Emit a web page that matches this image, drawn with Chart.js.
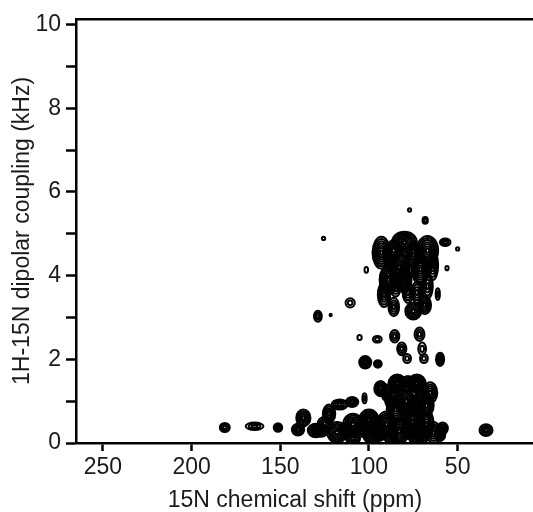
<!DOCTYPE html>
<html>
<head>
<meta charset="utf-8">
<script src="https://cdn.jsdelivr.net/npm/chart.js@4"></script>
<style>
    body { margin: 0; background: #fff; }
    canvas { display: block; }
</style>
</head>
<body>
<canvas id="container" width="533" height="512"></canvas>
<script>
// peaks: centre (ppm, kHz), half width (ppm), half height (kHz), contour levels
const peakShift = [
    77.1, 68.3, 125.6, 50, 56, 101.5, 61.2, 110.6, 128.8, 121.6, 105.3, 95.3,
    85.5, 81.5, 78.5, 71.5, 70, 69, 59.9, 102.1, 95, 102.5, 34, 181.3, 164.5, 151.3,
    93, 80, 67, 57, 83, 89, 71, 64, 91.5, 86, 75, 68.5, 78, 67, 85,
    86, 75, 80, 73, 88,
    93.5, 84, 73, 65.5, 79, 87, 67.5, 78, 90, 70, 75,
    137, 140, 130, 122.5, 116.5, 109.5, 118, 109, 109, 100, 98, 90, 85, 83,
    75.5, 73.5, 67.5, 63.5, 58.5, 125,
    127, 113, 104, 94, 88, 78, 70, 60
];
const peakCoupling = [
    5.57, 5.32, 4.89, 4.64, 4.18, 4.14, 3.56, 3.35, 3.03, 3.06, 2.52, 2.48,
    2.55, 2.25, 2.02, 2.6, 2.25, 2.02, 2.0, 1.93, 1.89, 1.07, 0.31, 0.37, 0.4, 0.37,
    4.55, 4.8, 4.6, 4.8, 4.2, 3.9, 4.15, 4.25, 3.55, 3.25, 3.15, 3.3, 3.6, 3.75, 3.75,
    4.6, 4.5, 3.9, 3.6, 4.3,
    1.3, 1.42, 1.42, 1.2, 1.0, 1.05, 0.9, 1.4, 1.2, 1.1, 0.85,
    0.6, 0.32, 0.3, 0.7, 0.92, 0.98, 0.25, 0.45, 0.1, 0.55, 0.23, 0.45, 0.8, 0.28,
    0.5, 0.15, 0.45, 0.25, 0.35, 0.45,
    0.3, 0.3, 0.35, 0.25, 0.2, 0.3, 0.2, 0.2
];
const peakWidth = [
    0.9, 1.5, 0.9, 0.9, 0.9, 1.0, 1.2, 2.6, 2.2, 0.6, 1.2, 2.5,
    2.6, 2.6, 2.2, 2.8, 2.2, 2.2, 2.3, 3.4, 2.2, 1.2, 3.7, 2.8, 5.0, 2.4,
    5, 7, 6, 3, 6, 5, 5, 3, 3.5, 3, 4.5, 3.5, 3, 3, 3,
    4, 4, 4, 3, 3,
    3.5, 5, 5, 4, 5, 4, 4, 4, 3, 4, 4,
    4, 3.5, 4.5, 3.5, 4.5, 3.5, 5.5, 5.5, 4, 5.5, 5.5, 5.5, 5, 5.5,
    5.5, 4, 4, 4, 3, 4,
    4, 4, 4, 4, 4, 4, 4, 3
];
const peakHeight = [
    0.04, 0.08, 0.04, 0.04, 0.05, 0.07, 0.14, 0.11, 0.13, 0.03, 0.06, 0.08,
    0.15, 0.15, 0.11, 0.16, 0.15, 0.11, 0.16, 0.15, 0.09, 0.12, 0.14, 0.11, 0.09, 0.1,
    0.38, 0.25, 0.35, 0.09, 0.35, 0.35, 0.35, 0.35, 0.3, 0.22, 0.2, 0.22, 0.25, 0.3, 0.25,
    0.25, 0.3, 0.3, 0.25, 0.2,
    0.18, 0.22, 0.22, 0.25, 0.25, 0.25, 0.25, 0.2, 0.2, 0.2, 0.2,
    0.2, 0.14, 0.16, 0.22, 0.12, 0.12, 0.25, 0.25, 0.12, 0.25, 0.25, 0.3, 0.3, 0.3,
    0.35, 0.2, 0.35, 0.25, 0.14, 0.18,
    0.15, 0.18, 0.2, 0.2, 0.2, 0.2, 0.2, 0.15
];
const peakLevels = [
    1, 2, 1, 1, 1, 1, 2, 2, 3, 1, 1, 2,
    3, 3, 2, 3, 2, 2, 4, 5, 3, 2, 4, 3, 3, 4,
    7, 7, 7, 3, 8, 7, 7, 5, 5, 4, 5, 5, 4, 4, 4,
    5, 6, 6, 4, 4,
    5, 7, 7, 5, 6, 5, 5, 5, 4, 5, 5,
    5, 4, 5, 5, 4, 4, 6, 6, 4, 7, 7, 7, 6, 7,
    8, 5, 6, 5, 4, 4,
    4, 5, 5, 5, 5, 5, 5, 4
];

const xTicks = [250, 200, 150, 100, 50];
const yTicks = [0, 1, 2, 3, 4, 5, 6, 7, 8, 9, 10];
const yLabelled = [0, 2, 4, 6, 8, 10];

class PeakContour extends Chart.ScatterController {
    draw() {
        const chart = this.chart;
        const ctx = chart.ctx;
        const xs = chart.scales.x;
        const ys = chart.scales.y;
        const area = chart.chartArea;

        ctx.save();
        ctx.beginPath();
        ctx.rect(area.left, area.top, area.right - area.left, area.bottom - area.top);
        ctx.clip();
        ctx.strokeStyle = '#000';
        ctx.lineWidth = 2;
        this.getDataset().data.forEach(p => {
            const cx = xs.getPixelForValue(p.x);
            const cy = ys.getPixelForValue(p.y);
            const rx = Math.abs(xs.getPixelForValue(p.x + p.w) - cx);
            const ry = Math.abs(ys.getPixelForValue(p.y + p.h) - cy);
            // outer ring first, then smaller ones inside
            for (let i = 0; i < p.n; i++) {
                const f = 1 - i / p.n;
                ctx.beginPath();
                ctx.ellipse(cx, cy, Math.max(rx * f, 0.6), Math.max(ry * f, 0.6), 0, 0, 2 * Math.PI);
                ctx.stroke();
            }
        });
        ctx.restore();
    }
}
PeakContour.id = 'peakContour';
PeakContour.defaults = Chart.ScatterController.defaults;
Chart.register(PeakContour);

const font = { family: "'Liberation Sans', Arial, sans-serif", size: 23 };
const titleFont = { family: "'Liberation Sans', Arial, sans-serif", size: 23, lineHeight: 1 };
const ink = '#1a1a1a';

new Chart(document.querySelector('#container'), {
    type: 'scatter',
    data: {
        datasets: [{
            type: 'peakContour',
            label: 'contours',
            pointRadius: 0,
            data: peakShift.map((x, i) => ({
                x: x,
                y: peakCoupling[i],
                w: peakWidth[i],
                h: peakHeight[i],
                n: peakLevels[i]
            }))
        }]
    },
    options: {
        responsive: false,
        animation: false,
        layout: { autoPadding: false, padding: { top: 15, right: 0, left: 0, bottom: 0 } },
        plugins: {
            legend: { display: false },
            tooltip: { enabled: false }
        },
        scales: {
            x: {
                type: 'linear',
                position: 'bottom',
                reverse: true,
                min: 7.5,
                max: 265.2,
                afterFit: scale => { scale.height = 69; },
                afterBuildTicks: scale => { scale.ticks = xTicks.map(v => ({ value: v })); },
                border: { display: true, color: '#000', width: 2.5 },
                grid: { drawOnChartArea: false, tickLength: 8, tickWidth: 2.5, tickColor: '#000' },
                ticks: { font: font, color: ink, padding: 3, maxRotation: 0, autoSkip: false },
                title: {
                    display: true,
                    text: '15N chemical shift (ppm)\u00a0\u00a0\u00a0',
                    font: titleFont,
                    color: ink,
                    padding: { top: 0, bottom: 0 }
                }
            },
            x2: {
                type: 'linear',
                position: 'top',
                afterFit: scale => { scale.height = 0; },
                border: { display: true, color: '#000', width: 2.5 },
                grid: { display: false, drawTicks: false },
                ticks: { display: false }
            },
            y: {
                type: 'linear',
                min: 0,
                max: 10.14,
                afterFit: scale => { scale.width = 76; },
                afterBuildTicks: scale => { scale.ticks = yTicks.map(v => ({ value: v })); },
                border: { display: true, color: '#000', width: 2.5 },
                grid: { drawOnChartArea: false, tickLength: 10, tickWidth: 2.5, tickColor: '#000' },
                ticks: {
                    font: font,
                    color: ink,
                    padding: 5,
                    autoSkip: false,
                    callback: v => yLabelled.includes(v) ? v : ''
                },
                title: {
                    display: true,
                    text: '1H-15N dipolar coupling (kHz)',
                    font: titleFont,
                    color: ink,
                    padding: { top: 11, bottom: 0 }
                }
            }
        }
    }
});
</script>
</body>
</html>
